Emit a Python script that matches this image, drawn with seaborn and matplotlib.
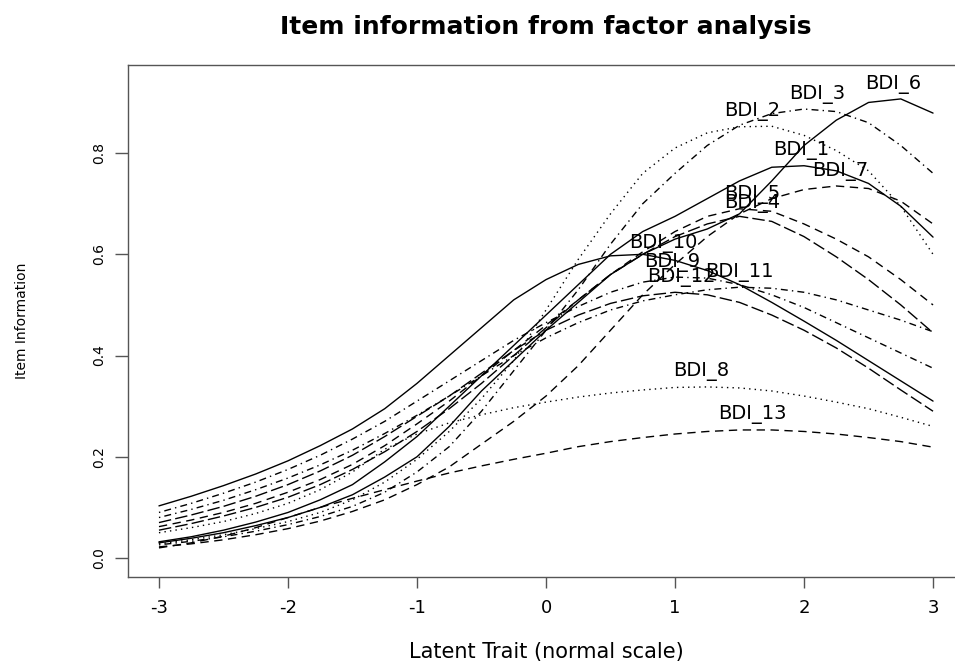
import numpy as np
import pandas as pd
import matplotlib
matplotlib.use("Agg")
import matplotlib.pyplot as plt
import seaborn as sns

# latent trait grid (step 0.25) and item information
theta = np.arange(-3, 3.01, 0.25)

bdi_1 = [.032, .042, .055, .071, .090, .115, .145, .190, .240, .300, .360, .420, .480,
         .540, .600, .645, .675, .710, .745, .772, .775, .765, .740, .695, .634]
bdi_2 = [.028, .036, .046, .058, .072, .090, .115, .150, .195, .250, .315, .390, .490,
         .590, .680, .760, .810, .840, .852, .853, .835, .805, .765, .695, .600]
bdi_3 = [.026, .033, .042, .053, .066, .082, .102, .130, .170, .220, .290, .370, .450,
         .530, .620, .700, .760, .815, .855, .878, .887, .882, .860, .815, .760]
bdi_4 = [.055, .068, .083, .100, .120, .145, .175, .210, .250, .295, .345, .400, .455,
         .510, .560, .600, .635, .660, .675, .665, .635, .595, .550, .500, .445]
bdi_5 = [.062, .075, .090, .108, .130, .155, .185, .222, .265, .310, .360, .410, .460,
         .510, .560, .605, .645, .675, .690, .685, .660, .630, .595, .550, .500]
bdi_6 = [.030, .039, .050, .064, .080, .100, .125, .160, .200, .260, .330, .390, .450,
         .505, .560, .600, .630, .650, .680, .745, .815, .865, .900, .907, .879]
bdi_7 = [.022, .028, .036, .046, .058, .073, .092, .115, .145, .180, .225, .270, .320,
         .380, .450, .520, .580, .635, .680, .710, .728, .735, .730, .705, .660]
bdi_8 = [.050, .060, .072, .088, .108, .135, .170, .215, .245, .267, .283, .297, .308,
         .318, .326, .332, .337, .338, .336, .330, .320, .308, .295, .278, .260]
bdi_9 = [.090, .108, .128, .150, .175, .203, .235, .270, .310, .350, .390, .430, .465,
         .497, .525, .545, .555, .553, .540, .520, .495, .465, .435, .405, .375]
bdi_10 = [.103, .122, .143, .166, .192, .222, .255, .295, .345, .400, .455, .510, .550,
          .580, .597, .600, .588, .568, .540, .505, .468, .430, .390, .350, .310]
bdi_11 = [.080, .096, .114, .135, .158, .184, .213, .246, .282, .320, .360, .400, .435,
          .465, .490, .508, .520, .530, .535, .533, .525, .510, .490, .470, .447]
bdi_12 = [.070, .085, .102, .122, .145, .172, .203, .240, .280, .320, .365, .410, .450,
          .480, .503, .518, .525, .520, .505, .480, .450, .415, .375, .332, .290]
bdi_13 = [.020, .030, .043, .060, .080, .100, .118, .135, .152, .168, .182, .195, .207,
          .220, .230, .238, .245, .250, .253, .253, .250, .245, .238, .230, .219]

items = ["BDI_1", "BDI_2", "BDI_3", "BDI_4", "BDI_5", "BDI_6", "BDI_7",
         "BDI_8", "BDI_9", "BDI_10", "BDI_11", "BDI_12", "BDI_13"]
curves = [bdi_1, bdi_2, bdi_3, bdi_4, bdi_5, bdi_6, bdi_7,
          bdi_8, bdi_9, bdi_10, bdi_11, bdi_12, bdi_13]
# where each item label sits along the trait axis (its peak, as read)
label_x = [1.98, 1.60, 2.10, 1.60, 1.60, 2.69, 2.28, 1.20, 0.98, 0.91, 1.50, 1.05, 1.60]

# R style line types
solid = "-"
dashed = (0, (6, 4))
dotted = (0, (1, 3))
dotdash = (0, (1, 3, 5, 3))
longdash = (0, (9, 3))
styles = [solid, dotted, dotdash, longdash, dashed, solid, dashed,
          dotted, dotdash, solid, dotdash, longdash, dashed]

sns.set_style("white")
plt.rcParams["font.family"] = ["DejaVu Sans"]
plt.rcParams["text.color"] = "black"
plt.rcParams["axes.labelcolor"] = "black"
plt.rcParams["xtick.labelcolor"] = "black"
plt.rcParams["ytick.labelcolor"] = "black"

fig = plt.figure(figsize=(9.55, 6.62), dpi=100)
ax = fig.add_axes([128 / 955, 1 - 577 / 662, (964 - 128) / 955, (577 - 65) / 662])

for name, vals, ls, lx in zip(items, curves, styles, label_x):
    df = pd.DataFrame({"theta": theta, "info": vals})
    sns.lineplot(data=df, x="theta", y="info", ax=ax, color="black",
                 linestyle=ls, linewidth=1.0)
    ly = np.interp(lx, theta, vals) + 0.03
    ax.text(lx, ly, name, ha="center", va="center", fontsize=14, color="black")

ax.set_xlim(-3.24, 3.24)
ax.set_ylim(-0.0375, 0.974)
ax.set_xticks([-3, -2, -1, 0, 1, 2, 3])
ax.set_xticklabels(["-3", "-2", "-1", "0", "1", "2", "3"])
ax.set_yticks([0.0, 0.2, 0.4, 0.6, 0.8])
ax.set_yticklabels(["0.0", "0.2", "0.4", "0.6", "0.8"])

for sp in ax.spines.values():
    sp.set_color("#555555")
    sp.set_linewidth(1.0)

ax.tick_params(axis="x", direction="out", length=8, width=1, color="#555555",
               pad=8, labelsize=13, bottom=True)
ax.tick_params(axis="y", direction="out", length=9.5, width=1, color="#555555",
               pad=6, labelsize=10, left=True, labelrotation=90)
for lab in ax.get_yticklabels():
    lab.set_va("center")

ax.set_xlabel("Latent Trait (normal scale)", fontsize=15)
ax.xaxis.set_label_coords(0.5, (577 - 652) / 512)
ax.xaxis.label.set_va("center")
ax.set_ylabel("Item Information", fontsize=10)
ax.yaxis.set_label_coords((22 - 128) / 836, 0.5)
ax.yaxis.label.set_va("center")

ax.set_title("Item information from factor analysis", fontsize=18,
             fontweight="bold", pad=22, color="black")

fig.savefig("out.png", dpi=100)
